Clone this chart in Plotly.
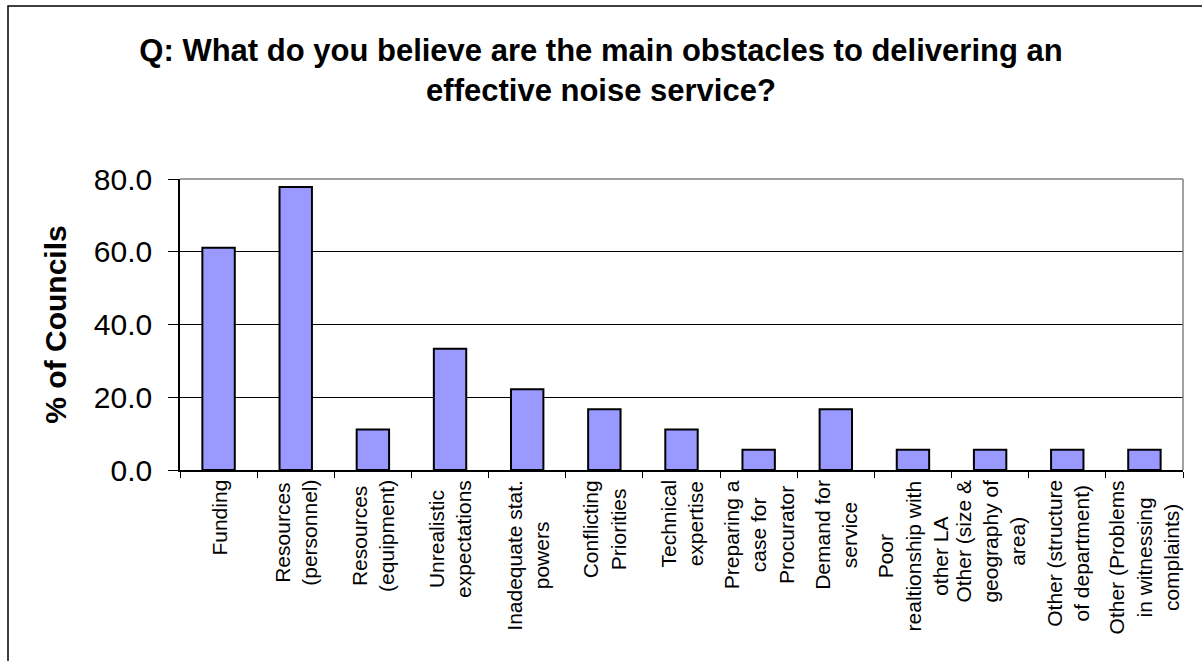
import plotly.graph_objects as go

categories = [
    "Funding",
    "Resources<br>(personnel)",
    "Resources<br>(equipment)",
    "Unrealistic<br>expectations",
    "Inadequate stat.<br>powers",
    "Conflicting<br>Priorities",
    "Technical<br>expertise",
    "Preparing a<br>case for<br>Procurator",
    "Demand for<br>service",
    "Poor<br>realtionship with<br>other LA",
    "Other (size &<br>geography of<br>area)",
    "Other (structure<br>of department)",
    "Other (Problems<br>in witnessing<br>complaints)",
]
values = [61.1, 77.8, 11.1, 33.3, 22.2, 16.7, 11.1, 5.6, 16.7, 5.6, 5.6, 5.6, 5.6]
y_ticks = [0, 20, 40, 60, 80]

FONT = "Liberation Sans, Arial, sans-serif"
W, H = 1202, 661
L, R, T, B = 180, 19, 179, 191

fig = go.Figure()
fig.add_trace(go.Bar(
    x=list(range(len(categories))), y=values,
    marker=dict(color="#9999FF", line=dict(color="#000000", width=2)),
    hoverinfo="x+y",
))

annotations = []
for i, lab in enumerate(categories):
    annotations.append(dict(
        x=i, y=0, xref="x", yref="paper", yanchor="top", xanchor="center",
        yshift=-8, text=lab, textangle=-90, align="center", showarrow=False,
        font=dict(family=FONT, size=21, color="#000000"),
    ))

pw = W - L - R
ph = H - T - B
shapes = [
    # outer chart frame (left and top edges visible)
    dict(type="rect", xref="paper", yref="paper",
         x0=(8 - L) / pw, x1=(W + 20 - L) / pw,
         y0=-(H + 20 - T - ph) / ph, y1=(H - B - 6) / ph,
         line=dict(color="#000000", width=1.5), fillcolor="rgba(0,0,0,0)", layer="below"),
    # plot area border top & right gray
    dict(type="line", xref="paper", yref="paper", x0=0, x1=1, y0=1, y1=1,
         line=dict(color="#808080", width=1.5)),
    dict(type="line", xref="paper", yref="paper", x0=1, x1=1, y0=0, y1=1,
         line=dict(color="#808080", width=1.5)),
]

fig.update_layout(
    width=W, height=H,
    margin=dict(l=L, r=R, t=T, b=B),
    paper_bgcolor="#FFFFFF", plot_bgcolor="#FFFFFF",
    showlegend=False,
    bargap=0.58,
    title=dict(
        text="Q: What do you believe are the main obstacles to delivering an<br>effective noise service?",
        x=0.5, xanchor="center", y=1 - 61 / H, yanchor="middle", yref="container",
        font=dict(family=FONT, size=31, color="#000000", weight="bold"),
    ),
    xaxis=dict(
        type="linear", range=[-0.5, len(categories) - 0.5],
        tickvals=[i - 0.5 for i in range(len(categories) + 1)],
        showticklabels=False, ticks="outside", ticklen=6, tickcolor="#000000", tickwidth=1,
        showline=True, linecolor="#000000", linewidth=1.5, showgrid=False, zeroline=False,
    ),
    yaxis=dict(
        range=[0, 80], tickvals=y_ticks, ticktext=[f"{v:.1f}" for v in y_ticks],
        ticks="outside", ticklen=10, tickcolor="#000000", tickwidth=1,
        ticklabelstandoff=10,
        showline=True, linecolor="#000000", linewidth=1.5,
        showgrid=True, gridcolor="#000000", gridwidth=1, zeroline=False,
        tickfont=dict(family=FONT, size=30, color="#000000"),
        title=dict(text="% of Councils", standoff=18,
                   font=dict(family=FONT, size=30, color="#000000", weight="bold")),
    ),
    annotations=annotations,
    shapes=shapes,
)

fig.write_html("out.html")
